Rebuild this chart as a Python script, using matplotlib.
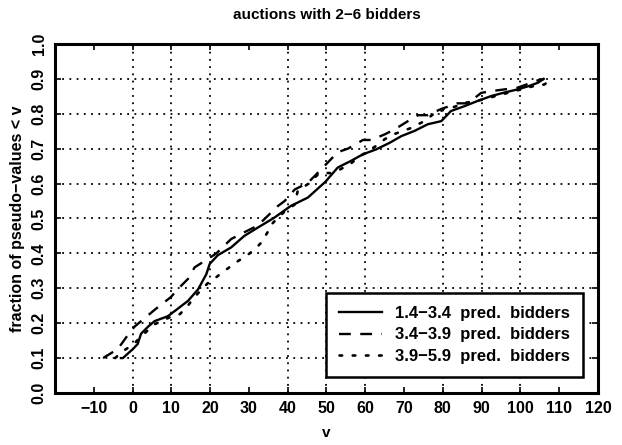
import matplotlib
matplotlib.use('Agg')
import matplotlib.pyplot as plt
import numpy as np

# values
v_low = [-3, -2.5, 0.1, 1.3, 2.2, 4.0, 5.7, 9.1, 10.9, 14.3, 16.9, 19.0, 19.9, 22.0, 25.4,
         28.8, 32.3, 36.5, 40.8, 45.2, 49.7, 52.9, 56.3, 59.4, 62.8, 66.3, 69.3, 72.7, 76.1,
         79.6, 82.1, 85.6, 89.0, 92.5, 95.9, 99.3, 102.3, 104.5, 106]
f_low = [0.10, 0.10, 0.126, 0.14, 0.17, 0.19, 0.206, 0.22, 0.235, 0.264, 0.297, 0.34, 0.37,
         0.395, 0.417, 0.45, 0.474, 0.502, 0.536, 0.56, 0.605, 0.646, 0.665, 0.684, 0.698,
         0.717, 0.736, 0.751, 0.77, 0.779, 0.808, 0.822, 0.837, 0.851, 0.861, 0.87, 0.88,
         0.889, 0.90]

v_mid = [-7.6, -3.8, -1.6, 0.5, 3.5, 6.1, 9.9, 11.7, 14.3, 16.0, 19.4, 21.6, 25.4, 28, 32.3,
         37.5, 39.2, 41.8, 45.2, 49.0, 52.9, 55.5, 59.4, 61.5, 65, 67.5, 71, 73.6, 76, 79.6,
         83.8, 86.4, 89.9, 92.5, 95.9, 99.3, 102.8, 104.5, 106]
f_mid = [0.10, 0.126, 0.16, 0.19, 0.218, 0.242, 0.275, 0.298, 0.327, 0.36, 0.384, 0.40, 0.441,
         0.456, 0.48, 0.536, 0.55, 0.583, 0.602, 0.645, 0.69, 0.70, 0.725, 0.725, 0.741, 0.755,
         0.779, 0.796, 0.796, 0.814, 0.83, 0.83, 0.86, 0.865, 0.87, 0.875, 0.889, 0.896, 0.90]

v_high = [-4.5, -2.5, 0.1, 2.5, 5.7, 9.6, 12.2, 13.9, 15.2, 16.5, 17.8, 19.9, 21.6, 24.2, 27.2,
          30.2, 31.9, 33.2, 35, 35.8, 37.5, 39.2, 41.8, 42.6, 45, 47.8, 49, 51, 53.4, 56, 58.1,
          60.7, 62.8, 65, 67, 69.7, 72, 73.6, 75.3, 77.4, 78.7, 80, 83, 86, 90, 95, 100.2,
          103.6, 106.2, 108]
f_high = [0.10, 0.12, 0.138, 0.165, 0.197, 0.217, 0.226, 0.245, 0.264, 0.281, 0.297, 0.32,
          0.332, 0.354, 0.378, 0.40, 0.416, 0.431, 0.464, 0.483, 0.502, 0.52, 0.54, 0.58,
          0.597, 0.626, 0.631, 0.63, 0.64, 0.655, 0.674, 0.693, 0.708, 0.727, 0.74, 0.751,
          0.76, 0.77, 0.779, 0.798, 0.798, 0.813, 0.82, 0.832, 0.84, 0.855, 0.87, 0.88,
          0.884, 0.90]

labels = ['1.4\u22123.4  pred.  bidders', '3.4\u22123.9  pred.  bidders', '3.9\u22125.9  pred.  bidders']
x_ticks = list(range(-10, 121, 10))
y_ticks = [i / 10 for i in range(11)]
x_grid = [0, 10, 20, 40, 50, 60, 80, 90, 100]  # the other grid lines are missing in the picture

plt.rcParams['font.family'] = ['Liberation Sans', 'DejaVu Sans']
plt.rcParams['font.weight'] = 'bold'

fig = plt.figure(figsize=(6.22, 4.45), dpi=100)
ax = fig.add_axes([0.0884, 0.1169, 0.8730, 0.7842])

for xg in x_grid:
    ax.axvline(xg, color='black', lw=1.3, ls=(0, (1, 3)), zorder=0)
for yg in y_ticks[1:-1]:
    ax.axhline(yg, color='black', lw=1.3, ls=(0, (1, 3)), zorder=0)

ax.plot(v_low, f_low, color='black', lw=1.7, label=labels[0])
ax.plot(v_mid, f_mid, color='black', lw=1.7, ls=(0, (5, 4)), label=labels[1])
ax.plot(v_high, f_high, color='black', lw=1.9, ls=(0, (1, 4)), dash_capstyle='round', label=labels[2])

ax.set_xlim(-20, 120)
ax.set_ylim(0, 1.0)
ax.set_xticks(x_ticks)
ax.set_yticks(y_ticks)
ax.set_xticklabels([str(t).replace('-', '\u2212') for t in x_ticks])
ax.set_yticklabels(['%.1f' % t for t in y_ticks], rotation=90, va='center')
ax.tick_params(direction='in', length=4, width=1.2, top=True, right=True, labelsize=11.5, pad=6)
for s in ax.spines.values():
    s.set_linewidth(2.2)

ax.set_title('auctions with 2\u22126 bidders', fontsize=11, fontweight='bold', pad=18)
ax.set_xlabel('v', fontsize=11, fontweight='bold', labelpad=7)
ax.set_ylabel('fraction of pseudo\u2212values < v', fontsize=11.5, fontweight='bold', labelpad=5)

leg = ax.legend(loc='lower right', bbox_to_anchor=(0.972, 0.047), borderaxespad=0,
                fancybox=False, edgecolor='black', fontsize=12, handlelength=2.6,
                framealpha=1, borderpad=0.75, labelspacing=0.4)
leg.get_frame().set_linewidth(1.8)

fig.savefig('out.png', dpi=100)
